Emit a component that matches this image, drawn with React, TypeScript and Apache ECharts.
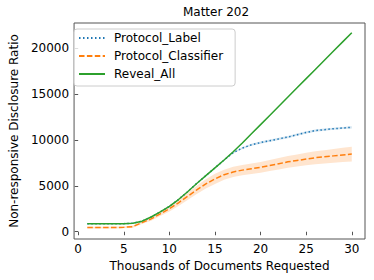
import React, { useEffect, useRef } from "react";
import * as echarts from "echarts";

const docsK = [1, 2, 3, 4, 5, 6, 7, 8, 9, 10, 11, 12, 13, 14, 15, 16, 17, 18, 19, 20, 21, 22, 23, 24, 25, 26, 27, 28, 29, 30];
const revealAll = [870, 870, 870, 870, 880, 930, 1150, 1600, 2150, 2750, 3500, 4350, 5250, 6100, 6950, 7800, 8700, 9650, 10650, 11650, 12650, 13650, 14650, 15650, 16650, 17650, 18650, 19650, 20650, 21650];
const protocolLabel = [870, 870, 870, 870, 880, 930, 1150, 1600, 2150, 2750, 3500, 4350, 5250, 6100, 6950, 7800, 8600, 9100, 9450, 9700, 9900, 10100, 10300, 10550, 10800, 11000, 11100, 11200, 11280, 11350];
const labelSpread = [0, 0, 0, 0, 0, 0, 0, 0, 0, 0, 0, 0, 0, 0, 20, 50, 80, 100, 110, 120, 120, 120, 120, 120, 120, 120, 120, 120, 120, 120];
const protocolClassifier = [450, 450, 450, 460, 480, 560, 1000, 1400, 1950, 2500, 3150, 3850, 4550, 5200, 5750, 6200, 6500, 6700, 6850, 7000, 7200, 7400, 7600, 7750, 7900, 8050, 8150, 8250, 8350, 8450];
const classifierSpread = [100, 100, 100, 100, 100, 120, 150, 200, 250, 300, 350, 400, 450, 500, 550, 550, 560, 570, 580, 590, 600, 620, 640, 660, 680, 700, 720, 740, 770, 800];
const xTicks = [0, 5, 10, 15, 20, 25, 30];
const yTicks = [0, 5000, 10000, 15000, 20000];

const FONT = "DejaVu Sans";

function bandSeries(name: string, mid: number[], spread: number[], fill: string) {
  const data = docsK.map((x, i) => [x, mid[i] - spread[i], mid[i] + spread[i]]);
  return {
    type: "custom",
    name,
    silent: true,
    clip: true,
    encode: { x: 0, y: [1, 2] },
    data,
    renderItem: (params: any, api: any) => {
      if (params.dataIndex !== 0) return null;
      const upper = data.map((d) => api.coord([d[0], d[2]]));
      const lowerPts = data.map((d) => api.coord([d[0], d[1]])).reverse();
      return {
        type: "polygon",
        shape: { points: upper.concat(lowerPts) },
        style: { fill, stroke: "none" },
      };
    },
  };
}

export default function App() {
  const ref = useRef<HTMLDivElement>(null);
  useEffect(() => {
    if (!ref.current) return;
    const chart = echarts.init(ref.current, undefined, { renderer: "svg" });
    const pts = (ys: number[]) => docsK.map((x, i) => [x, ys[i]]);
    chart.setOption({
      animation: false,
      textStyle: { fontFamily: FONT },
      title: {
        text: "Matter 202",
        left: 216,
        top: 6,
        textAlign: "center",
        padding: 0,
        textStyle: { fontFamily: FONT, fontSize: 12, fontWeight: "normal", color: "#000" },
      },
      legend: {
        orient: "vertical",
        left: 74,
        top: 29,
        itemWidth: 26,
        itemHeight: 14,
        itemGap: 6,
        padding: [3, 12, 6, 4],
        borderColor: "#cccccc",
        borderWidth: 1,
        borderRadius: 3,
        backgroundColor: "rgba(255,255,255,0.8)",
        itemStyle: { opacity: 0 },
        textStyle: { fontFamily: FONT, fontSize: 12, color: "#000", padding: [0, 0, 0, 4] },
        data: ["Protocol_Label", "Protocol_Classifier", "Reveal_All"],
      },
      grid: {
        left: 67,
        right: 9,
        top: 23,
        bottom: 41,
        show: true,
        borderColor: "#555",
        borderWidth: 1,
        backgroundColor: "transparent",
      },
      xAxis: {
        type: "value",
        min: -0.45,
        max: 31.45,
        name: "Thousands of Documents Requested",
        nameLocation: "middle",
        nameGap: 19,
        nameTextStyle: { fontFamily: FONT, fontSize: 12, color: "#000" },
        axisLine: { show: false },
        splitLine: { show: false },
        axisTick: { show: true, length: 3.5, lineStyle: { color: "#555" }, customValues: xTicks },
        axisLabel: { fontFamily: FONT, fontSize: 12, color: "#000", margin: 4, customValues: xTicks, formatter: (v: number) => String(v) },
      },
      yAxis: {
        type: "value",
        min: -790,
        max: 22700,
        name: "Non-responsive Disclosure Ratio",
        nameLocation: "middle",
        nameRotate: 90,
        nameGap: 47,
        nameTextStyle: { fontFamily: FONT, fontSize: 12, color: "#000" },
        axisLine: { show: false },
        splitLine: { show: false },
        axisTick: { show: true, length: 3.5, lineStyle: { color: "#555" }, customValues: yTicks },
        axisLabel: { fontFamily: FONT, fontSize: 12, color: "#000", margin: 5, customValues: yTicks, formatter: (v: number) => String(v) },
      },
      series: [
        bandSeries("labelBand", protocolLabel, labelSpread, "rgba(31,119,180,0.2)"),
        {
          type: "line",
          name: "Protocol_Label",
          data: pts(protocolLabel),
          symbol: "none",
          lineStyle: { color: "#1f77b4", width: 1.5, type: [1.5, 2.5] },
          itemStyle: { color: "#1f77b4" },
        },
        bandSeries("classifierBand", protocolClassifier, classifierSpread, "rgba(255,127,14,0.2)"),
        {
          type: "line",
          name: "Protocol_Classifier",
          data: pts(protocolClassifier),
          symbol: "none",
          lineStyle: { color: "#ff7f0e", width: 1.5, type: [5.5, 2.4] },
          itemStyle: { color: "#ff7f0e" },
        },
        {
          type: "line",
          name: "Reveal_All",
          data: pts(revealAll),
          symbol: "none",
          lineStyle: { color: "#2ca02c", width: 1.5 },
          itemStyle: { color: "#2ca02c" },
        },
      ],
    });
    return () => chart.dispose();
  }, []);
  return <div ref={ref} style={{ width: 374, height: 280, position: "absolute", left: 0, top: 0 }} />;
}
